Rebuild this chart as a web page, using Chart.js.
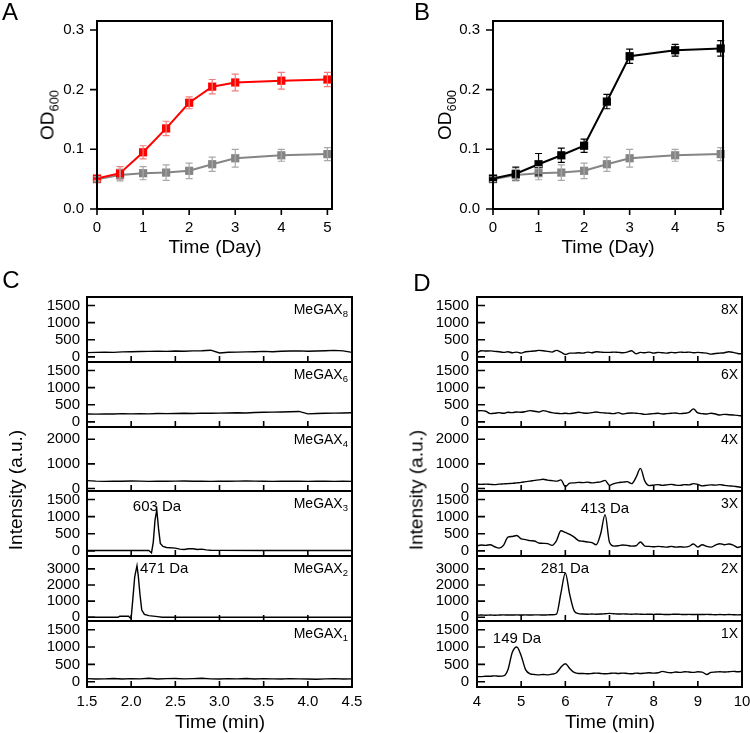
<!DOCTYPE html>
<html>
<head>
<meta charset="utf-8">
<script src="https://cdn.jsdelivr.net/npm/chart.js@4.4.1/dist/chart.umd.min.js"></script>
<style>
  html, body { margin: 0; padding: 0; background: #fff; overflow: hidden; }
  #fig { position: relative; width: 750px; height: 733px; overflow: hidden; font-family: 'Liberation Sans', Arial, sans-serif; color: #000; background: #fff; }
  #fig canvas { position: absolute; }
  .txt { position: absolute; white-space: nowrap; line-height: 1; transform: translate(-50%, -50%); }
  .rot { transform: translate(-50%, -50%) rotate(-90deg); }
  .right { transform: translate(-100%, -50%); }
  .left { transform: translate(0, -50%); }
  .panel { font-size: 24px; }
  .title { font-size: 19px; }
  .strip { font-size: 14px; }
  .peak { font-size: 15px; }
  sub { font-size: 0.68em; vertical-align: baseline; position: relative; top: 0.35em; }
</style>
</head>
<body>
<div id="fig"></div>
<script>
// ---- growth curves (A, B) ----
const days = [0, 0.5, 1, 1.5, 2, 2.5, 3, 4, 5];
const odRedA = [0.051, 0.060, 0.095, 0.135, 0.178, 0.205, 0.212, 0.215, 0.217];
const odRedAErr = [0.003, 0.011, 0.011, 0.012, 0.010, 0.012, 0.014, 0.014, 0.012];
const odBlackB = [0.051, 0.059, 0.075, 0.090, 0.106, 0.180, 0.256, 0.266, 0.269];
const odBlackBErr = [0.003, 0.011, 0.018, 0.012, 0.011, 0.012, 0.012, 0.010, 0.013];
const odControl = [0.050, 0.057, 0.060, 0.061, 0.064, 0.075, 0.085, 0.090, 0.092];
const odControlErr = [0.004, 0.010, 0.011, 0.013, 0.013, 0.012, 0.015, 0.010, 0.011];
const dayTicks = [0, 1, 2, 3, 4, 5];
const odTicks = [0, 0.1, 0.2, 0.3];

// ---- chromatograms C (MeGAX) ----
const timeC = [1.5, 1.6, 1.7, 1.8, 1.9, 2.0, 2.1, 2.2, 2.3, 2.4, 2.5, 2.6, 2.7, 2.8, 2.9, 3.0,
  3.1, 3.2, 3.3, 3.4, 3.5, 3.6, 3.7, 3.8, 3.9, 4.0, 4.1, 4.2, 4.3, 4.4, 4.5];
const megax8 = [125, 130, 140, 130, 145, 150, 155, 160, 165, 160, 170, 165, 175, 180, 195, 115,
  135, 140, 145, 150, 160, 150, 165, 170, 175, 165, 170, 180, 190, 175, 130];
const megax6 = [230, 225, 235, 230, 240, 235, 240, 235, 245, 240, 245, 250, 245, 255, 250, 255,
  260, 265, 260, 275, 280, 285, 290, 295, 305, 235, 245, 250, 255, 260, 265];
const megax4 = [320, 300, 290, 300, 295, 305, 300, 290, 300, 295, 300, 305, 295, 300, 290, 300,
  295, 300, 305, 300, 295, 290, 300, 295, 300, 290, 295, 300, 290, 295, 290];
const megax3Time = [1.5, 1.8, 2.0, 2.1, 2.2, 2.23, 2.25, 2.27, 2.29, 2.31, 2.33, 2.36, 2.4, 2.5, 2.55,
  2.6, 2.65, 2.7, 2.75, 2.8, 2.85, 2.9, 3.0, 3.5, 4.0, 4.5];
const megax3 = [10, 10, 15, 10, 10, -60, 250, 900, 1200, 650, 220, 130, 100, 80, 50,
  40, 60, 60, 40, 50, 30, 20, 15, 10, 10, 10];
const megax2Time = [1.5, 1.85, 1.87, 1.97, 1.99, 2.0, 2.02, 2.04, 2.066, 2.08, 2.1, 2.12, 2.15, 2.2,
  2.3, 2.35, 2.5, 3.0, 3.5, 4.0, 4.5];
const megax2 = [0, 0, 60, 60, -40, -40, 1200, 2500, 3200, 2600, 1400, 450, 180, 100,
  40, 0, 0, 0, 0, 0, 0];
const megax1 = [90, 80, 85, 95, 80, 90, 85, 100, 80, 90, 95, 85, 90, 100, 85, 80,
  90, 85, 95, 80, 90, 85, 80, 90, 85, 80, 75, 85, 90, 80, 85];
const timeCTicks = [1.5, 2.0, 2.5, 3.0, 3.5, 4.0, 4.5];

// ---- chromatograms D (xylo-oligomers) ----
const timeD = [4.0, 4.1, 4.2, 4.3, 4.4, 4.5, 4.6, 4.7, 4.8, 4.9, 5.0, 5.1, 5.2, 5.3, 5.4, 5.5, 5.6, 5.7, 5.8, 5.9,
  6.0, 6.1, 6.2, 6.3, 6.4, 6.5, 6.6, 6.7, 6.8, 6.9, 7.0, 7.1, 7.2, 7.3, 7.4, 7.5, 7.6, 7.7, 7.8, 7.9,
  8.0, 8.1, 8.2, 8.3, 8.4, 8.5, 8.6, 8.7, 8.8, 8.9, 9.0, 9.1, 9.2, 9.3, 9.4, 9.5, 9.6, 9.7, 9.8, 9.9, 10.0];
const x8 = [120, 180, 170, 175, 160, 150, 130, 150, 120, 140, 110, 150, 160, 170, 190, 180, 160, 140, 190, 140,
  70, 110, 110, 120, 110, 140, 120, 150, 140, 130, 130, 140, 130, 120, 140, 180, 90, 130, 120, 140,
  110, 130, 120, 110, 130, 120, 140, 130, 140, 120, 130, 120, 110, 80, 100, 110, 120, 150, 130, 100, 90];
const x6 = [320, 330, 310, 240, 250, 270, 250, 280, 270, 290, 280, 300, 330, 310, 290, 330, 300, 270, 250, 240,
  250, 240, 260, 280, 260, 250, 270, 290, 270, 260, 250, 240, 270, 230, 250, 260, 250, 240, 220, 230,
  240, 250, 230, 240, 250, 260, 240, 250, 280, 380, 260, 240, 230, 250, 230, 200, 220, 210, 200, 190, 170];
const x4 = [180, 170, 180, 170, 160, 180, 190, 200, 210, 230, 250, 280, 300, 330, 350, 380, 340, 320, 300, 350,
  80, 220, 230, 250, 240, 260, 230, 250, 270, 330, 130, 200, 240, 260, 280, 200, 450, 820, 300, 120,
  140, 160, 130, 150, 170, 140, 130, 160, 150, 200, 170, 110, 130, 150, 140, 160, 130, 110, 100, 70, 40];
const x3 = [150, 170, 160, 180, 120, 80, 160, 400, 420, 450, 350, 330, 300, 290, 230, 220, 210, 160, 300, 590,
  540, 480, 400, 300, 280, 260, 240, 180, 500, 1060, 250, 140, 150, 170, 160, 140, 150, 260, 140, 130,
  120, 130, 120, 110, 130, 110, 120, 110, 130, 200, 110, 180, 130, 110, 170, 210, 180, 200, 170, 100, 140];
const x2 = [130, 140, 130, 140, 130, 140, 150, 140, 140, 150, 140, 150, 140, 150, 150, 140, 150, 160, 200, 1500,
  2750, 1400, 400, 230, 200, 190, 200, 190, 200, 220, 240, 220, 200, 210, 200, 190, 200, 190, 180, 190,
  180, 190, 180, 170, 180, 190, 180, 170, 180, 170, 180, 170, 180, 170, 160, 170, 160, 170, 160, 150, 160];
const x1 = [150, 150, 160, 160, 170, 160, 170, 350, 850, 1000, 750, 350, 230, 210, 200, 210, 200, 220, 260, 420,
  520, 380, 270, 240, 240, 230, 240, 250, 240, 230, 240, 250, 240, 250, 240, 230, 250, 240, 250, 260,
  250, 260, 300, 270, 260, 280, 270, 290, 280, 270, 290, 280, 210, 270, 280, 290, 280, 290, 300, 290, 300];
const timeDTicks = [4, 5, 6, 7, 8, 9, 10];

const ticks1500 = [0, 500, 1000, 1500];
const ticks2000 = [0, 1000, 2000];
const ticks3000 = [0, 1000, 2000, 3000];

Chart.defaults.font.family = "'Liberation Sans', Arial, sans-serif";
Chart.defaults.color = '#000';

const fig = document.getElementById('fig');

function addCanvas(left, top, w, h) {
  const c = document.createElement('canvas');
  c.width = w; c.height = h;
  c.style.left = left + 'px'; c.style.top = top + 'px';
  c.style.width = w + 'px'; c.style.height = h + 'px';
  fig.appendChild(c);
  return c;
}

function addText(html, x, y, cls) {
  const d = document.createElement('div');
  d.className = 'txt ' + cls;
  d.innerHTML = html;
  d.style.left = x + 'px'; d.style.top = y + 'px';
  fig.appendChild(d);
}

function noPad(sc) {
  sc.paddingLeft = 0; sc.paddingRight = 0; sc.paddingTop = 0; sc.paddingBottom = 0;
}

// frame + tick marks (outer for A/B, inner for C/D)
const frame = {
  id: 'frame',
  afterDraw(chart, args, o) {
    const { ctx, chartArea: a, scales } = chart;
    const dir = o.inner ? -1 : 1;
    ctx.save();
    ctx.strokeStyle = '#000';
    ctx.lineWidth = 1.6;
    ctx.beginPath();
    scales.x.ticks.forEach(t => {
      const px = scales.x.getPixelForValue(t.value);
      if (o.inner && (px <= a.left + 1 || px >= a.right - 1)) return;
      ctx.moveTo(px, a.bottom); ctx.lineTo(px, a.bottom + dir * o.xLen);
    });
    scales.y.ticks.forEach(t => {
      const py = scales.y.getPixelForValue(t.value);
      ctx.moveTo(a.left, py); ctx.lineTo(a.left - dir * o.yLen, py);
    });
    ctx.stroke();
    ctx.lineWidth = 2;
    ctx.strokeRect(a.left, a.top, a.right - a.left, a.bottom - a.top);
    ctx.restore();
  }
};

// error bars from dataset.errors
const errorBars = {
  id: 'errorBars',
  afterDatasetsDraw(chart) {
    const ctx = chart.ctx;
    const ys = chart.scales.y;
    chart.data.datasets.forEach((ds, i) => {
      if (!ds.errors) return;
      const meta = chart.getDatasetMeta(i);
      ctx.save();
      ctx.strokeStyle = ds.errorColor;
      ctx.lineWidth = 1.2;
      ctx.beginPath();
      meta.data.forEach((pt, j) => {
        const v = ds.data[j].y, e = ds.errors[j];
        const top = ys.getPixelForValue(v + e), bot = ys.getPixelForValue(v - e);
        ctx.moveTo(pt.x, top); ctx.lineTo(pt.x, bot);
        ctx.moveTo(pt.x - 3.5, top); ctx.lineTo(pt.x + 3.5, top);
        ctx.moveTo(pt.x - 3.5, bot); ctx.lineTo(pt.x + 3.5, bot);
      });
      ctx.stroke();
      ctx.restore();
    });
  }
};

function pts(xs, ys) {
  return ys.map((v, i) => ({ x: xs[i], y: v }));
}

const noGrid = { display: false, drawTicks: false, tickLength: 0 };

function growthChart(left, area, xMax, main) {
  const W = 375, H = 260;
  const c = addCanvas(left, 0, W, H);
  return new Chart(c, {
    type: 'line',
    data: {
      datasets: [
        { data: pts(days, main.values), errors: main.errors, errorColor: main.errColor,
          borderColor: main.color, backgroundColor: main.color, borderWidth: 2,
          pointStyle: 'rect', pointRadius: 5.8, pointBorderWidth: 0, clip: false },
        { data: pts(days, odControl), errors: odControlErr, errorColor: '#a8a8a8',
          borderColor: '#858585', backgroundColor: '#858585', borderWidth: 2,
          pointStyle: 'rect', pointRadius: 5.8, pointBorderWidth: 0, clip: false }
      ]
    },
    options: {
      responsive: false, animation: false, events: [],
      layout: { autoPadding: false, padding: { left: 0, right: W - area.right, top: area.top, bottom: 0 } },
      plugins: { legend: { display: false }, tooltip: { enabled: false }, frame: { inner: false, xLen: 6, yLen: 7 } },
      scales: {
        x: {
          type: 'linear', min: 0, max: xMax,
          grid: noGrid, border: { display: false },
          ticks: { padding: 10, font: { size: 15 }, callback: v => String(v) },
          afterBuildTicks: sc => { sc.ticks = dayTicks.map(v => ({ value: v })); },
          afterFit: sc => { sc.height = H - area.bottom; noPad(sc); }
        },
        y: {
          min: 0, max: 0.315,
          grid: noGrid, border: { display: false },
          ticks: { padding: 13, font: { size: 15 }, callback: v => v.toFixed(1) },
          afterBuildTicks: sc => { sc.ticks = odTicks.map(v => ({ value: v })); },
          afterFit: sc => { sc.width = area.left; noPad(sc); }
        }
      }
    },
    plugins: [frame, errorBars]
  });
}

growthChart(0, { left: 97, right: 332, top: 21, bottom: 209 }, 5.1,
  { values: odRedA, errors: odRedAErr, color: '#ff0000', errColor: '#f47c7c' });
growthChart(375, { left: 118, right: 348, top: 21, bottom: 209 }, 5.05,
  { values: odBlackB, errors: odBlackBErr, color: '#000000', errColor: '#000000' });

// stacked chromatogram strips
const bounds = [297, 362, 427, 491, 556, 621, 687];
const M = 16;

function strip(i, p) {
  const top = bounds[i], bottom = bounds[i + 1];
  const last = i === bounds.length - 2;
  const cTop = top - M;
  const cH = last ? 733 - cTop : (bottom - top) + 2 * M;
  const xH = last ? 733 - bottom : M;
  const c = addCanvas(p.left, cTop, p.W, cH);
  return new Chart(c, {
    type: 'line',
    data: {
      datasets: [{
        data: pts(p.t, p.v), borderColor: '#000', borderWidth: 1.4, pointRadius: 0,
        tension: 0, cubicInterpolationMode: p.smooth ? 'monotone' : 'default'
      }]
    },
    options: {
      responsive: false, animation: false, events: [],
      layout: { autoPadding: false, padding: { left: 0, right: p.W - p.right, top: M, bottom: 0 } },
      plugins: { legend: { display: false }, tooltip: { enabled: false }, frame: { inner: true, xLen: 6, yLen: 8 } },
      scales: {
        x: {
          type: 'linear', min: p.xMin, max: p.xMax,
          grid: noGrid, border: { display: false },
          ticks: { display: last, padding: 6, font: { size: 15 }, callback: p.xFmt },
          afterBuildTicks: sc => { sc.ticks = p.xTicks.map(v => ({ value: v })); },
          afterFit: sc => { sc.height = xH; noPad(sc); }
        },
        y: {
          min: p.yMin, max: p.yMax,
          grid: noGrid, border: { display: false },
          ticks: { padding: p.yPad, font: { size: 15 }, callback: v => String(v) },
          afterBuildTicks: sc => { sc.ticks = p.yTicks.map(v => ({ value: v })); },
          afterFit: sc => { sc.width = p.yW; noPad(sc); }
        }
      }
    },
    plugins: [frame]
  });
}

const rng1500 = { yMin: -150, yMax: 1750, yTicks: ticks1500 };
const rng2000 = { yMin: -100, yMax: 2500, yTicks: ticks2000 };
const rng3000 = { yMin: -230, yMax: 3800, yTicks: ticks3000 };

const panelC = { left: 0, W: 375, yW: 87, right: 352, yPad: 7, xMin: 1.5, xMax: 4.5, xTicks: timeCTicks, xFmt: v => v.toFixed(1) };
const panelD = { left: 375, W: 400, yW: 102, right: 367, yPad: 8, xMin: 4, xMax: 10, xTicks: timeDTicks, xFmt: v => String(v), smooth: true };

const stripsC = [
  [timeC, megax8, rng1500], [timeC, megax6, rng1500], [timeC, megax4, rng2000],
  [megax3Time, megax3, rng1500], [megax2Time, megax2, rng3000], [timeC, megax1, rng1500]
];
const stripsD = [
  [timeD, x8, rng1500], [timeD, x6, rng1500], [timeD, x4, rng2000],
  [timeD, x3, rng1500], [timeD, x2, rng3000], [timeD, x1, rng1500]
];
stripsC.forEach((s, i) => strip(i, Object.assign({}, panelC, s[2], { t: s[0], v: s[1] })));
stripsD.forEach((s, i) => strip(i, Object.assign({}, panelD, s[2], { t: s[0], v: s[1] })));

// text
addText('A', 10, 12, 'panel');
addText('B', 422, 12, 'panel');
addText('C', 11, 280, 'panel');
addText('D', 422, 283, 'panel');
addText('OD<sub>600</sub>', 47, 115, 'title rot');
addText('OD<sub>600</sub>', 444, 115, 'title rot');
addText('Time (Day)', 215, 246, 'title');
addText('Time (Day)', 608, 246, 'title');
addText('Time (min)', 220, 721, 'title');
addText('Time (min)', 610, 721, 'title');
addText('Intensity (a.u.)', 15, 490, 'title rot');
addText('Intensity (a.u.)', 416, 490, 'title rot');

const labelsC = ['MeGAX<sub>8</sub>', 'MeGAX<sub>6</sub>', 'MeGAX<sub>4</sub>', 'MeGAX<sub>3</sub>', 'MeGAX<sub>2</sub>', 'MeGAX<sub>1</sub>'];
const labelsD = ['8X', '6X', '4X', '3X', '2X', '1X'];
labelsC.forEach((t, i) => addText(t, 348, bounds[i] + 12, 'strip right'));
labelsD.forEach((t, i) => addText(t, 738, bounds[i] + 12, 'strip right'));

addText('603 Da', 157, 505, 'peak');
addText('471 Da', 140, 567, 'peak left');
addText('413 Da', 605, 507, 'peak');
addText('281 Da', 565, 567, 'peak');
addText('149 Da', 517, 637, 'peak');
</script>
</body>
</html>
